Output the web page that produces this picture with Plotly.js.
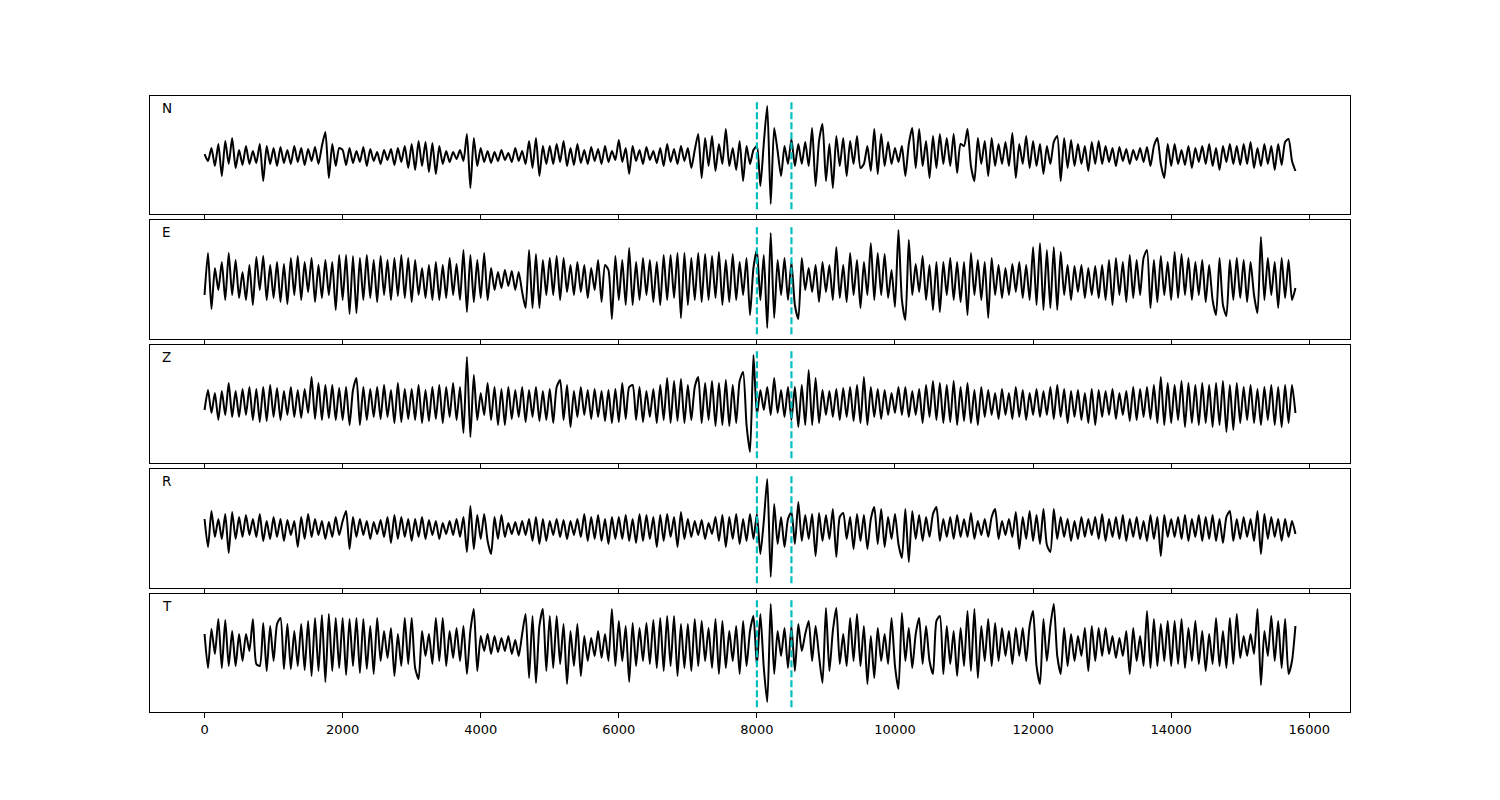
<!DOCTYPE html>
<html><head><meta charset="utf-8">
<script src="https://cdn.plot.ly/plotly-3.0.1.min.js"></script>
<style>html,body{margin:0;padding:0;background:#fff}</style>
</head><body><div id="chart" style="width:1500px;height:800px"></div>
<script>
const components = ['N','E','Z','R','T'];
const sampleStep = 50;
const xTickVals = [0,2000,4000,6000,8000,10000,12000,14000,16000];
const xTickText = ['0','2000','4000','6000','8000','10000','12000','14000','16000'];
const pickTimes = [8000, 8500];

const nVals = [
2,-5,8,-10,12,-20,15,-8,18,-12,6,-9,10,-8,5,-7,12,-25,10,-8,
8,-10,9,-7,6,-8,10,-6,8,-9,7,-5,9,-8,10,24,-22,12,-10,8,
6,-9,8,-7,5,-6,9,-10,7,-5,4,-8,6,-4,7,-9,8,-6,10,-12,
12,-14,15,-10,14,-16,13,-18,10,-8,5,-6,4,-3,6,-5,22,-32,18,-10,
8,-6,5,-7,4,-5,6,-4,3,-6,8,-5,5,-8,15,-12,18,-20,10,-8,
10,-8,12,-6,15,-10,8,-9,12,-7,6,-8,9,-5,7,-8,10,-6,5,-4,
16,-6,8,-18,10,-5,6,-8,9,-4,5,-7,8,-10,12,-6,7,-8,10,-5,
8,-12,6,22,-22,18,-10,20,-15,12,-8,27,-10,8,-14,15,-25,10,-8,6,
10,-30,13,50,-48,28,5,-20,10,-8,17,-10,12,-8,14,-10,28,-30,15,32,
-25,12,-32,20,-10,18,-20,15,-8,20,-12,-8,10,-15,27,-18,22,-10,14,-8,
8,-6,10,-20,12,28,-12,27,-10,15,-22,20,-12,22,-8,18,-10,22,-17,12,
10,27,-10,-25,18,-8,15,-20,18,-10,12,-8,14,-10,23,-22,12,-8,20,-12,
15,-10,12,-18,10,-8,14,20,-25,18,-12,16,-10,12,-8,10,-15,14,-8,15,
-8,10,-6,8,-10,9,-5,7,-8,6,-4,8,-6,9,-10,10,18,-8,-22,12,
-10,12,-8,6,-9,10,-12,8,-6,10,-8,12,-10,8,-14,10,-6,12,-8,10,
-9,12,-8,14,-12,8,-10,12,-8,10,-14,12,-9,14,17,-5,-15];

const eVals = [
-15,27,-29,12,-10,18,-20,27,-15,20,-18,8,-20,15,-25,23,-10,24,-20,15,
-18,18,-22,16,-24,22,-15,24,-20,18,-12,22,-22,15,-18,20,-15,18,-30,25,
-20,25,-34,24,-33,22,-20,25,-18,20,-22,24,-15,20,-20,22,-16,25,-18,22,
-22,20,-15,12,-18,15,-20,18,-20,15,-18,22,-15,16,-20,30,-32,25,-22,20,
-18,27,-20,12,-10,8,-8,10,-6,9,-10,8,-12,-28,30,-28,26,-28,20,-15,
22,-15,24,-20,22,-12,15,-15,18,-12,15,-18,12,-10,20,-22,15,10,-39,24,
-20,20,-25,32,-25,18,-20,22,-15,20,-22,18,-25,25,-20,25,-18,27,-38,27,
-25,22,-20,27,-22,26,-20,24,-18,28,-25,20,-22,26,-20,18,-15,22,-35,12,
30,-20,25,-48,47,-38,20,-15,22,-20,18,-25,-39,22,-10,12,-12,15,-22,18,
-12,15,-20,33,-18,15,-22,27,-15,20,-28,18,-15,37,-20,27,-15,26,-18,10,
-27,50,-20,-40,40,-15,16,-12,24,-20,15,-30,18,-32,18,-15,22,-20,18,-22,
18,-35,27,-15,20,-20,18,-38,22,-15,15,-18,12,-15,16,-12,18,-18,15,-20,
33,-25,37,-30,30,-28,33,-30,28,-15,15,-20,14,-12,15,-18,12,-15,14,-18,
15,-20,20,-25,22,-15,18,-22,25,-18,20,-15,22,30,-28,20,-22,24,-15,18,
-20,28,-18,26,-15,22,-20,18,-15,20,-22,15,-20,-35,22,-25,-36,20,-20,22,
-18,20,-22,18,-15,-33,43,-20,22,-15,18,-28,22,-18,20,-20,-8];

const zVals = [
-5,15,-8,12,-15,14,-10,22,-12,14,-12,16,-10,18,-15,16,-17,18,-16,20,
-12,17,-15,14,-10,18,-12,15,-13,16,-8,28,-14,22,-15,20,-13,20,-15,17,
-15,18,-20,15,27,-20,18,-15,16,-12,18,-14,20,-12,15,-18,22,-17,16,-14,
16,-15,20,-18,15,-16,18,-14,20,-18,18,-12,22,-15,18,-28,48,-32,30,-15,
12,-10,22,-15,18,-20,16,-20,18,-14,15,-12,18,-17,15,-12,18,-16,14,-15,
16,-18,18,25,-15,20,-22,14,-12,18,-10,15,-14,16,-12,14,-16,15,-18,16,
-17,22,-14,18,20,-15,18,-17,14,-12,16,-18,20,-15,27,-18,24,-16,26,-18,
20,-15,18,28,-18,22,-15,24,-21,22,-20,25,-21,20,-18,24,33,-20,-47,50,
-10,15,-5,18,-10,27,-8,15,-12,18,-15,18,-22,20,-20,35,-20,27,-18,15,
-10,14,-12,16,-15,17,-12,18,-16,20,-18,28,-20,18,-12,16,-14,15,-10,12,
-8,18,-10,18,-12,14,-10,16,-18,20,-12,24,-15,22,-18,20,-17,24,-20,18,
-16,22,-18,15,-20,18,-12,15,-10,12,-14,16,-10,12,-14,18,-12,15,-15,12,
-10,16,-12,14,-10,18,-14,20,-12,16,-18,14,-12,15,-15,12,-18,16,-20,15,
-12,14,-10,16,-14,12,-10,14,-16,18,-15,16,-12,18,-14,20,-18,28,-20,22,
-18,20,-15,24,-22,22,-18,20,-20,22,-18,20,-22,22,-20,24,-27,20,-25,22,
-18,18,-15,20,-18,16,-20,18,-15,20,-20,18,-22,20,-18,20,-8];

const rVals = [
10,-18,18,-8,10,-10,15,-24,17,-10,12,-8,14,-6,10,-8,15,-12,8,-10,
12,-8,10,-12,9,-6,8,-18,12,-10,15,-8,10,-6,8,-10,7,-8,12,-6,
8,18,-20,12,-8,10,-6,8,-10,7,-5,9,-8,12,-14,14,-10,12,-8,10,
-12,10,-8,12,-10,9,-6,8,-10,6,-5,8,-6,10,-8,12,-23,23,-20,14,
-10,15,-12,-25,12,-10,14,-8,6,-5,7,-6,8,-6,10,-12,12,-15,10,-12,
8,-6,10,-8,9,-10,8,-6,10,-8,15,-12,12,-10,14,-12,10,-15,12,-10,
12,-10,14,-12,10,-14,15,-12,14,-10,12,-18,14,-12,15,-8,12,-18,17,-10,
10,-8,8,-6,9,-10,6,-5,12,-12,14,-18,12,-10,15,-15,10,-12,15,-10,
15,-25,8,50,-48,25,-15,12,-18,10,17,-15,27,-12,14,-10,15,-27,16,-12,
14,-10,20,-28,12,16,-10,12,-20,15,-12,14,-20,10,22,-15,20,-18,12,-10,
15,-15,-29,20,-33,18,-10,14,-12,12,-8,15,22,-12,10,-8,12,-10,14,-8,
10,-8,16,-10,8,-6,10,-8,12,20,-10,8,-6,10,-8,17,-20,12,-10,18,
-12,14,-15,20,-16,-23,20,-10,12,-8,10,-12,8,-10,12,-8,10,-6,12,-10,
15,-12,10,-8,12,-10,14,-12,10,-8,12,-10,8,-12,14,-10,12,-27,14,-8,
10,-8,12,-10,14,-12,10,-8,14,-12,12,-10,14,-12,10,-14,12,18,-12,10,
-10,12,-8,10,-12,18,-25,15,-10,12,-8,10,-12,10,-8,8,-5];

const tVals = [
12,-22,17,-8,27,-22,26,-20,15,-20,12,-15,12,-5,27,-18,-20,23,-25,20,
-15,22,28,-23,22,-23,15,-20,22,-24,25,-30,28,-25,31,-36,32,-25,28,-22,
28,-29,27,-20,28,-27,27,-23,20,-28,28,-15,15,-12,18,-30,12,-20,28,-18,
28,-22,-33,15,-10,12,-18,28,-15,28,-20,15,-12,18,-15,20,-28,15,37,-25,
10,-5,12,-8,10,-6,8,-5,10,-8,6,-10,12,32,-32,30,-37,20,37,-25,
30,-22,30,-18,22,-38,15,-20,22,-30,10,-15,8,-10,15,-12,12,-15,37,-20,
25,-15,20,-36,23,-20,18,-15,23,-18,26,-22,28,-25,30,-20,30,-30,22,-22,
22,-25,27,-20,25,-15,18,-22,27,-28,25,-22,15,-15,20,-28,25,-20,15,30,
-20,32,-22,-56,42,-28,15,-10,18,-22,20,-25,22,-5,12,25,-15,20,-10,-37,
38,-25,15,38,-18,12,-20,28,-15,32,-20,20,-38,10,-32,18,-15,12,-18,28,
-20,-43,33,-15,18,-22,12,28,-18,20,-15,-28,25,30,-28,20,-18,15,-30,18,
-20,35,-25,37,-32,20,-15,27,-20,23,-15,18,-10,15,-18,18,-10,18,-15,20,
35,-20,-38,27,-15,20,42,-10,-28,18,-20,12,-15,10,-10,18,-25,20,-15,18,
-10,18,-8,10,-12,8,-10,15,-28,18,-15,10,-20,35,-22,27,-20,22,-15,25,
-20,25,-18,27,-22,18,-15,25,-18,15,-25,12,-18,28,-20,15,-22,28,-18,32,
-12,10,-10,12,-8,37,-39,15,-10,30,-15,25,-22,27,-28,-15,20];

const series = [nVals, eVals, zVals, rVals, tVals];

// layout settings (not data)
const yRanges = [[-58,60],[-59,60],[-58,60],[-59,60],[-66,52]];
const domains = [[0.8084,1],[0.6055,0.7987],[0.4042,0.5958],[0.2013,0.3945],[0,0.1916]];
const xRange = [-790, 16590];

const traces = [];
const layout = {
  width: 1500, height: 800,
  margin: {l:150, r:150, t:96, b:88},
  paper_bgcolor: '#fff', plot_bgcolor: '#fff',
  showlegend: false,
  font: {family: 'DejaVu Sans', size: 13, color: '#000'},
  shapes: [], annotations: []
};

series.forEach((vals, i) => {
  const k = i + 1;
  const xa = k === 1 ? 'x' : 'x' + k;
  const ya = k === 1 ? 'y' : 'y' + k;
  traces.push({
    x: vals.map((_, j) => j * sampleStep),
    y: vals,
    xaxis: xa, yaxis: ya,
    type: 'scatter', mode: 'lines',
    line: {color: '#000', width: 2, shape: 'spline', smoothing: 0.6},
    hoverinfo: 'skip'
  });
  layout['xaxis' + (k === 1 ? '' : k)] = {
    domain: [0, 1], anchor: ya, range: xRange,
    matches: k === 1 ? undefined : 'x',
    tickmode: 'array', tickvals: xTickVals, ticktext: xTickText,
    showticklabels: k === 5,
    ticks: 'outside', ticklen: 5, tickwidth: 1, tickcolor: '#000',
    showline: true, mirror: true, linecolor: '#000', linewidth: 1,
    showgrid: false, zeroline: false,
    tickfont: {family: 'DejaVu Sans', size: 13, color: '#000'}
  };
  layout['yaxis' + (k === 1 ? '' : k)] = {
    domain: domains[i], anchor: xa, range: yRanges[i],
    showticklabels: false, ticks: '',
    showline: true, mirror: true, linecolor: '#000', linewidth: 1,
    showgrid: false, zeroline: false
  };
  pickTimes.forEach(p => {
    layout.shapes.push({
      type: 'line', xref: xa, yref: ya + ' domain',
      x0: p, x1: p, y0: 0.04, y1: 0.96,
      line: {color: '#00bfbf', width: 2.2, dash: '7px,3px'}
    });
  });
  layout.annotations.push({
    text: components[i], showarrow: false,
    xref: xa + ' domain', yref: ya + ' domain',
    x: 0.008, y: 0.90, xanchor: 'left', yanchor: 'middle',
    font: {family: 'DejaVu Sans', size: 13.5, color: '#000'}
  });
});

Plotly.newPlot('chart', traces, layout, {displayModeBar: false, staticPlot: true});
</script>
</body></html>
